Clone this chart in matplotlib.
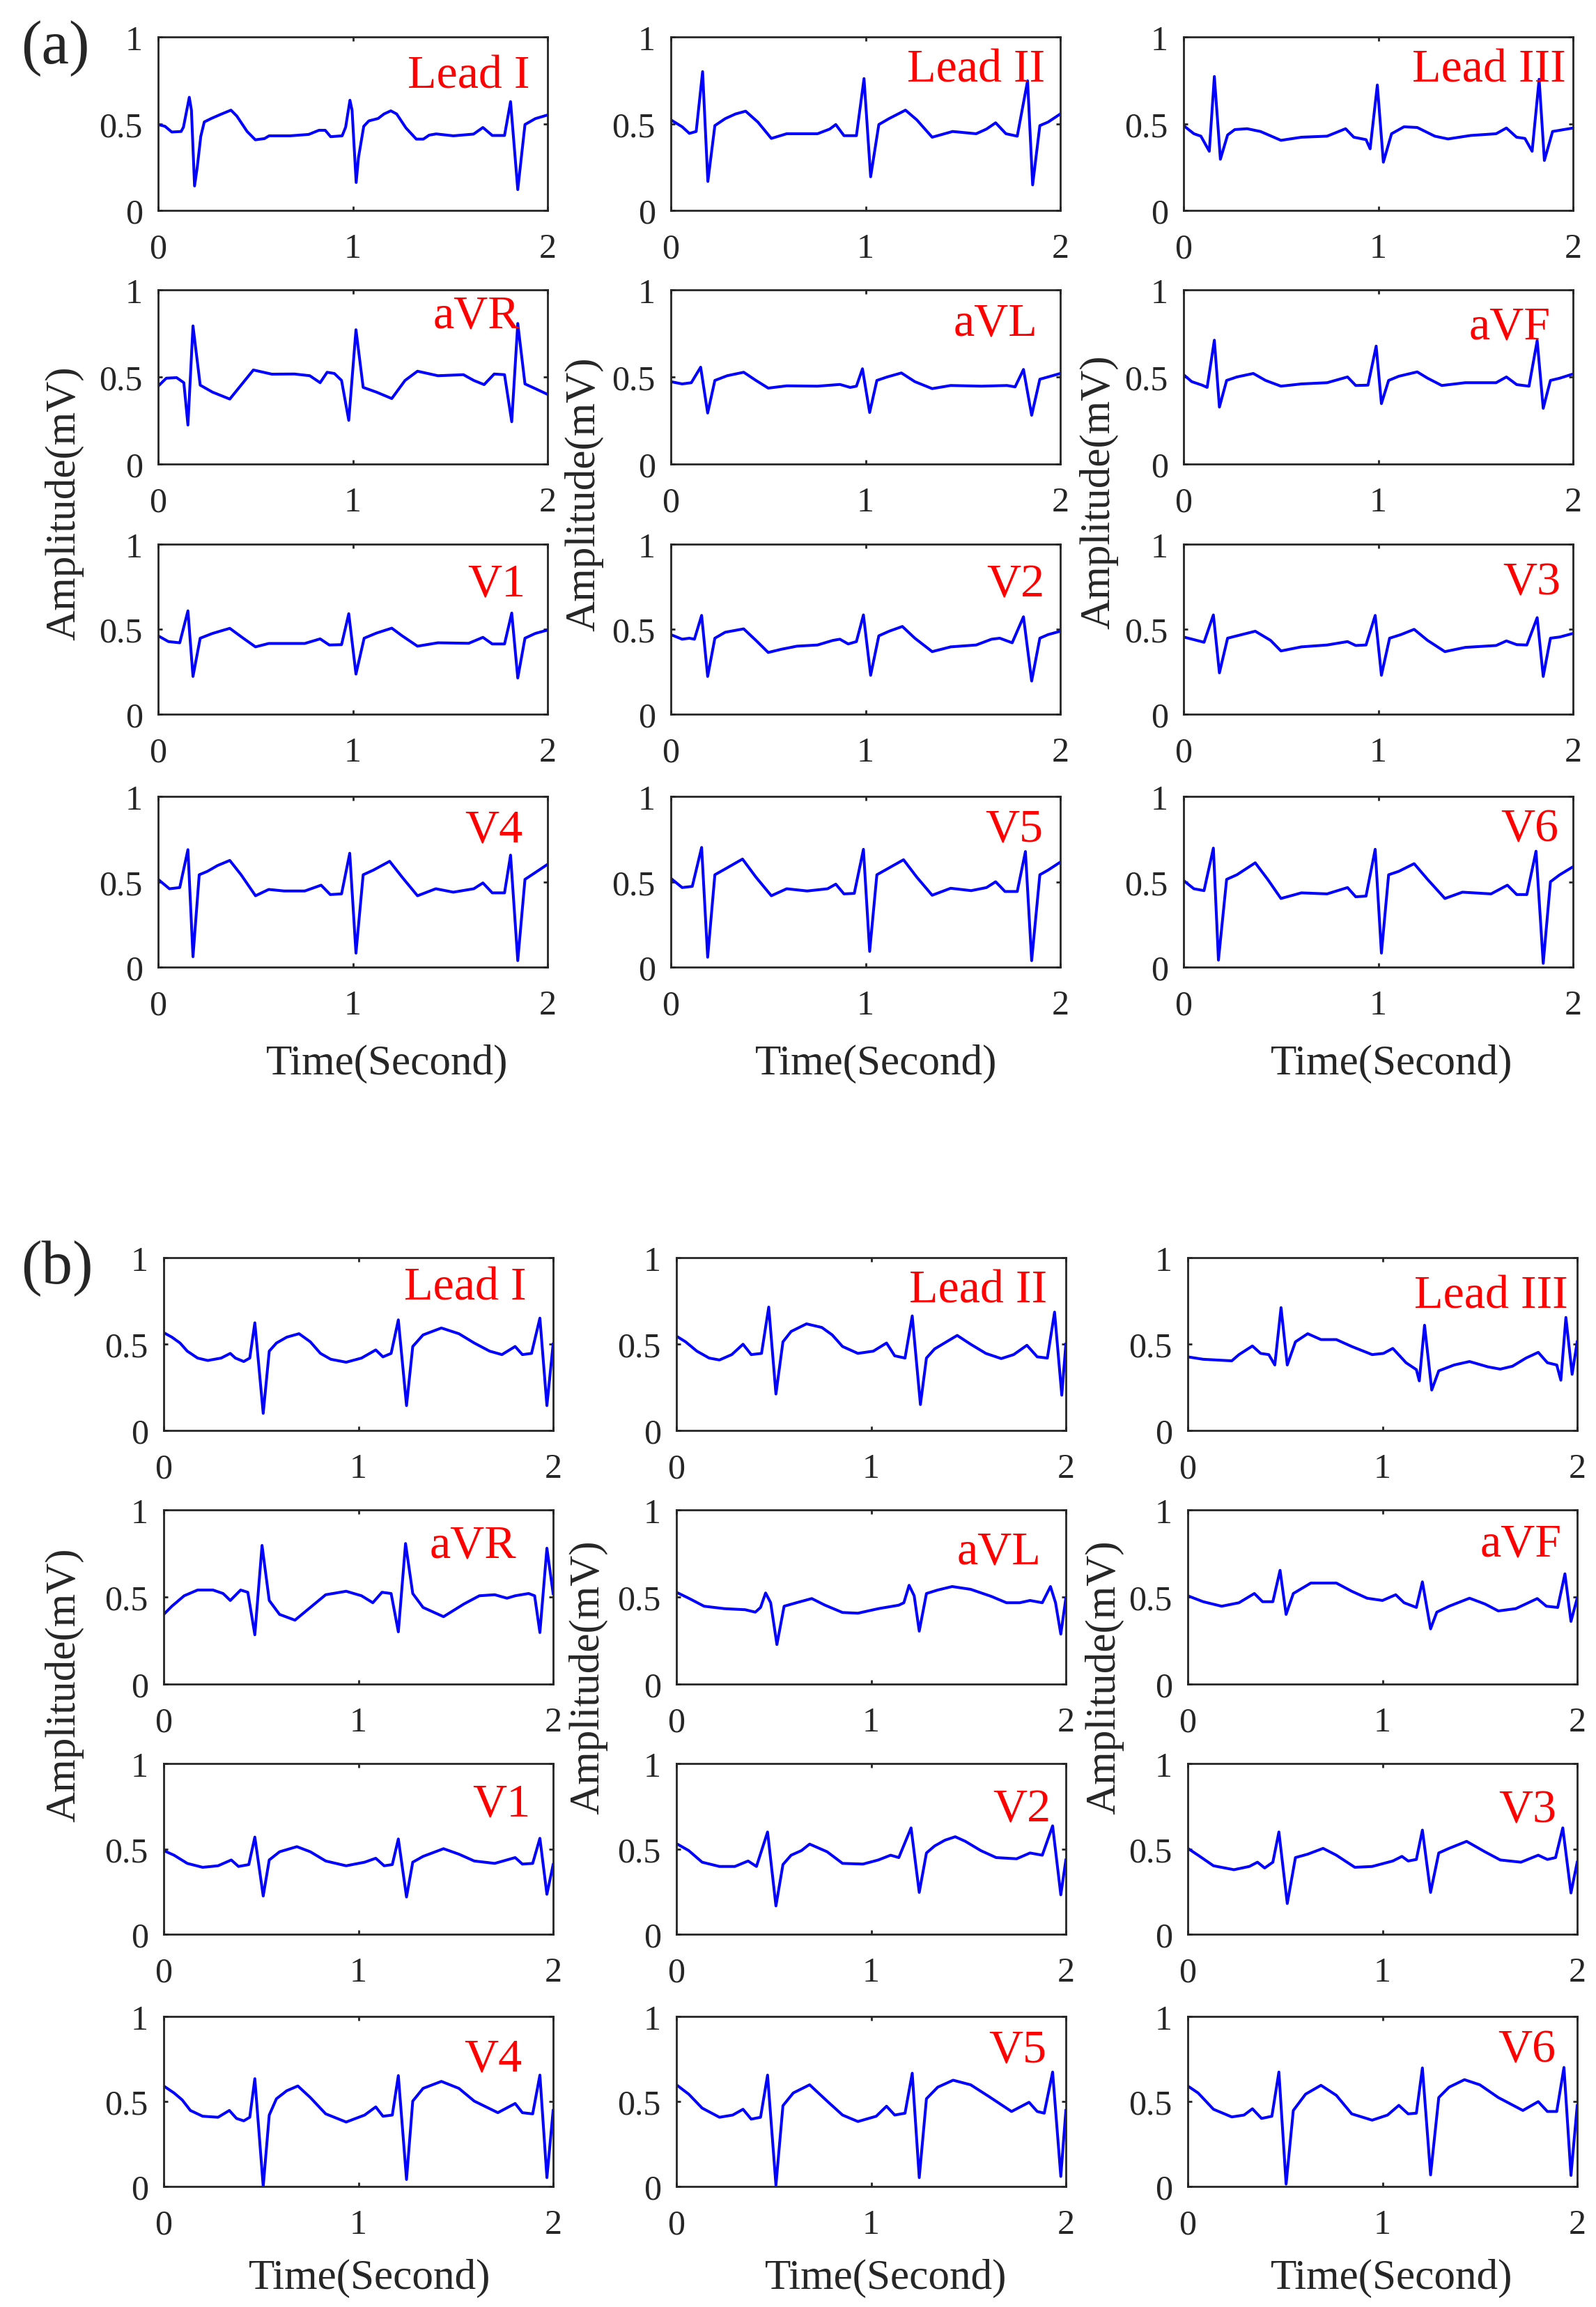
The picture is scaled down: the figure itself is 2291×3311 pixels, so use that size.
import matplotlib
matplotlib.use('Agg')
import matplotlib.pyplot as plt

plt.rcParams['font.family'] = ['Liberation Serif', 'DejaVu Serif']

# lead names, same order for both groups
LEADS = ['Lead I', 'Lead II', 'Lead III', 'aVR', 'aVL', 'aVF',
         'V1', 'V2', 'V3', 'V4', 'V5', 'V6']

XTICKS = [0, 1, 2]
XTICKLABELS = ['0', '1', '2']
YTICKS = [0, 0.5, 1]
YTICKLABELS = ['0', '0.5', '1']

# ---- group (a): (time s, amplitude mV)
A_I = [(0, .495), (.035, .485), (.07, .452), (.118, .455), (.13, .48), (.16, .652), (.171, .578), (.187, .141),
       (.201, .25), (.219, .427), (.237, .51), (.273, .53), (.32, .553), (.374, .578), (.404, .544), (.457, .455),
       (.499, .407), (.546, .414), (.57, .43), (.677, .43), (.773, .438), (.826, .462), (.858, .462), (.886, .425),
       (.945, .43), (.963, .48), (.985, .635), (.996, .578), (1.017, .161), (1.029, .305), (1.056, .485),
       (1.082, .516), (1.13, .53), (1.16, .556), (1.195, .574), (1.225, .556), (1.273, .475), (1.326, .411),
       (1.362, .411), (1.392, .434), (1.428, .441), (1.516, .43), (1.62, .44), (1.668, .478), (1.716, .432),
       (1.779, .432), (1.81, .627), (1.847, .12), (1.884, .495), (1.937, .529), (2.0, .55)]
A_II = [(0, .522), (.058, .482), (.095, .444), (.13, .455), (.163, .80), (.19, .167), (.226, .489), (.279, .529),
        (.332, .556), (.384, .572), (.447, .509), (.516, .415), (.595, .442), (.753, .442), (.816, .469),
        (.847, .495), (.889, .431), (.953, .431), (.992, .76), (1.026, .194), (1.068, .495), (1.12, .529),
        (1.205, .578), (1.263, .522), (1.342, .422), (1.447, .455), (1.568, .442), (1.621, .469), (1.668, .505),
        (1.721, .442), (1.779, .428), (1.832, .747), (1.858, .147), (1.895, .489), (1.937, .509), (2.0, .556)]
A_III = [(0, .489), (.053, .442), (.089, .428), (.132, .341), (.158, .772), (.189, .295), (.226, .435),
         (.263, .466), (.326, .471), (.395, .455), (.5, .404), (.605, .422), (.737, .428), (.832, .471),
         (.874, .422), (.937, .408), (.958, .355), (.995, .723), (1.026, .278), (1.068, .442), (1.132, .482),
         (1.2, .478), (1.29, .428), (1.358, .412), (1.474, .432), (1.605, .442), (1.658, .475), (1.71, .422),
         (1.753, .415), (1.79, .341), (1.826, .756), (1.853, .288), (1.895, .455), (2.0, .475)]
A_AVR = [(0, .447), (.042, .493), (.095, .496), (.132, .467), (.153, .224), (.179, .793), (.216, .453),
         (.279, .413), (.368, .373), (.489, .54), (.584, .516), (.7, .517), (.779, .507), (.832, .467),
         (.868, .527), (.905, .52), (.942, .48), (.979, .251), (1.016, .771), (1.053, .44), (1.121, .413),
         (1.2, .376), (1.268, .48), (1.332, .533), (1.437, .507), (1.568, .513), (1.621, .48), (1.674, .456),
         (1.726, .517), (1.779, .513), (1.816, .243), (1.847, .807), (1.884, .46), (1.937, .433), (2.0, .4)]
A_AVL = [(0, .473), (.058, .46), (.105, .467), (.153, .556), (.189, .293), (.226, .48), (.289, .507),
         (.374, .527), (.437, .48), (.5, .436), (.595, .449), (.753, .447), (.868, .457), (.921, .44),
         (.953, .447), (.984, .547), (1.021, .296), (1.058, .48), (1.111, .5), (1.184, .523), (1.253, .473),
         (1.342, .433), (1.437, .451), (1.595, .447), (1.726, .451), (1.768, .443), (1.811, .543), (1.853, .28),
         (1.895, .487), (1.937, .5), (2.0, .52)]
A_AVF = [(0, .513), (.042, .473), (.095, .453), (.121, .44), (.158, .711), (.184, .327), (.221, .48),
         (.274, .5), (.358, .52), (.421, .48), (.5, .447), (.605, .46), (.737, .467), (.842, .5), (.884, .451),
         (.947, .453), (.989, .677), (1.016, .347), (1.053, .48), (1.105, .504), (1.2, .529), (1.253, .493),
         (1.326, .451), (1.447, .467), (1.605, .467), (1.658, .5), (1.711, .456), (1.774, .447), (1.816, .709),
         (1.847, .32), (1.884, .48), (1.932, .493), (2.0, .517)]
A_V1 = [(0, .461), (.053, .427), (.111, .42), (.153, .608), (.179, .222), (.216, .447), (.279, .475),
        (.368, .505), (.437, .447), (.5, .396), (.568, .416), (.753, .416), (.832, .443), (.879, .407),
        (.942, .409), (.979, .591), (1.016, .236), (1.058, .447), (1.121, .477), (1.2, .506), (1.253, .461),
        (1.332, .4), (1.437, .42), (1.595, .417), (1.668, .452), (1.716, .413), (1.779, .413), (1.816, .595),
        (1.847, .213), (1.884, .447), (1.937, .475), (2.0, .495)]
A_V2 = [(0, .468), (.058, .441), (.095, .447), (.121, .441), (.158, .581), (.189, .222), (.226, .447),
        (.279, .482), (.374, .502), (.437, .434), (.5, .363), (.568, .382), (.647, .4), (.753, .407),
        (.832, .434), (.868, .441), (.911, .413), (.953, .427), (.989, .584), (1.026, .229), (1.068, .461),
        (1.121, .488), (1.189, .516), (1.253, .447), (1.342, .368), (1.437, .396), (1.568, .407), (1.647, .441),
        (1.689, .447), (1.753, .42), (1.811, .573), (1.853, .195), (1.895, .447), (1.937, .468), (2.0, .488)]
A_V3 = [(0, .454), (.068, .434), (.105, .423), (.153, .584), (.184, .243), (.226, .447), (.274, .461),
        (.368, .488), (.447, .434), (.5, .372), (.605, .396), (.737, .407), (.842, .427), (.884, .404),
        (.937, .407), (.984, .581), (1.016, .229), (1.058, .447), (1.116, .468), (1.184, .499), (1.253, .434),
        (1.342, .368), (1.447, .393), (1.605, .404), (1.658, .431), (1.711, .409), (1.763, .407), (1.816, .568),
        (1.847, .222), (1.884, .447), (1.932, .454), (2.0, .475)]
A_V4 = [(0, .514), (.058, .459), (.111, .466), (.153, .688), (.179, .061), (.211, .541), (.253, .561),
        (.305, .595), (.368, .625), (.426, .541), (.5, .418), (.568, .455), (.647, .446), (.753, .446),
        (.837, .48), (.884, .425), (.942, .429), (.984, .667), (1.016, .082), (1.053, .541), (1.105, .568),
        (1.189, .62), (1.253, .527), (1.332, .418), (1.426, .459), (1.516, .439), (1.621, .459), (1.668, .493),
        (1.716, .435), (1.779, .435), (1.81, .656), (1.847, .038), (1.884, .514), (1.937, .554), (2.0, .602)]
A_V5 = [(0, .52), (.058, .466), (.11, .473), (.158, .701), (.189, .058), (.226, .541), (.279, .575),
        (.368, .633), (.437, .527), (.516, .418), (.595, .459), (.7, .446), (.805, .459), (.847, .486),
        (.889, .429), (.942, .432), (.989, .69), (1.021, .092), (1.058, .541), (1.111, .575), (1.195, .629),
        (1.263, .527), (1.342, .421), (1.437, .462), (1.542, .448), (1.621, .466), (1.668, .5), (1.716, .443),
        (1.779, .443), (1.821, .677), (1.853, .038), (1.895, .541), (1.937, .568), (2.0, .615)]
A_V6 = [(0, .507), (.053, .459), (.105, .448), (.153, .697), (.179, .041), (.221, .514), (.274, .541),
        (.368, .611), (.432, .514), (.5, .402), (.605, .435), (.737, .429), (.842, .466), (.884, .412),
        (.937, .416), (.984, .69), (1.016, .082), (1.053, .541), (1.105, .561), (1.184, .606), (1.253, .514),
        (1.342, .402), (1.432, .439), (1.579, .429), (1.663, .48), (1.711, .425), (1.763, .425), (1.81, .679),
        (1.847, .022), (1.884, .5), (1.932, .541), (2.0, .588)]

# ---- group (b)
B_I = [(0, .566), (.042, .54), (.084, .506), (.121, .459), (.174, .419), (.226, .405), (.295, .419),
       (.342, .446), (.368, .419), (.411, .399), (.442, .419), (.468, .623), (.511, .099), (.542, .459),
       (.579, .506), (.632, .54), (.695, .56), (.753, .513), (.805, .446), (.858, .412), (.937, .395),
       (1.016, .419), (1.089, .466), (1.126, .426), (1.168, .446), (1.205, .64), (1.247, .144), (1.279, .486),
       (1.332, .553), (1.426, .593), (1.516, .56), (1.595, .506), (1.674, .459), (1.737, .439), (1.805, .486),
       (1.842, .439), (1.889, .446), (1.932, .65), (1.968, .144), (2.0, .5)]
B_II = [(0, .546), (.047, .513), (.105, .459), (.168, .419), (.221, .408), (.284, .439), (.342, .499),
        (.384, .439), (.437, .446), (.474, .714), (.511, .211), (.547, .513), (.589, .573), (.668, .617),
        (.747, .596), (.8, .553), (.853, .486), (.932, .446), (1.011, .459), (1.079, .506), (1.121, .432),
        (1.174, .419), (1.211, .663), (1.253, .15), (1.284, .419), (1.326, .472), (1.442, .55), (1.511, .499),
        (1.589, .446), (1.668, .416), (1.732, .439), (1.8, .493), (1.853, .426), (1.905, .419), (1.942, .685),
        (1.979, .204), (2.0, .5)]
B_III = [(0, .426), (.079, .412), (.226, .403), (.263, .439), (.332, .489), (.374, .446), (.416, .439),
         (.447, .379), (.479, .711), (.511, .379), (.553, .513), (.616, .56), (.684, .526), (.763, .526),
         (.842, .486), (.947, .439), (1.005, .446), (1.053, .475), (1.121, .392), (1.174, .352), (1.189, .287),
         (1.216, .609), (1.253, .234), (1.289, .345), (1.368, .379), (1.447, .399), (1.542, .368), (1.605, .355),
         (1.668, .372), (1.737, .419), (1.8, .452), (1.847, .392), (1.895, .379), (1.916, .291), (1.942, .654),
         (1.974, .325), (2.0, .513)]
B_AVR = [(0, .4), (.042, .447), (.105, .507), (.174, .54), (.253, .54), (.305, .52), (.342, .48), (.395, .54),
         (.432, .527), (.468, .283), (.505, .796), (.542, .48), (.595, .4), (.674, .367), (.753, .44),
         (.832, .513), (.937, .533), (1.016, .507), (1.074, .467), (1.121, .527), (1.168, .52), (1.205, .3),
         (1.242, .807), (1.279, .52), (1.332, .44), (1.437, .387), (1.542, .46), (1.621, .507), (1.7, .513),
         (1.763, .493), (1.805, .507), (1.874, .52), (1.905, .507), (1.932, .296), (1.968, .78), (2.0, .52)]
B_AVL = [(0, .527), (.063, .493), (.142, .447), (.247, .433), (.353, .427), (.405, .413), (.432, .44),
         (.458, .523), (.484, .467), (.516, .227), (.553, .447), (.616, .467), (.695, .491), (.763, .453),
         (.853, .411), (.932, .407), (1.037, .433), (1.142, .453), (1.168, .467), (1.195, .567), (1.221, .507),
         (1.247, .304), (1.284, .52), (1.342, .54), (1.416, .56), (1.511, .544), (1.616, .504), (1.695, .467),
         (1.763, .467), (1.816, .48), (1.879, .467), (1.921, .56), (1.947, .467), (1.974, .287), (2.0, .493)]
B_AVF = [(0, .507), (.079, .473), (.174, .447), (.263, .467), (.342, .52), (.384, .473), (.437, .473),
         (.474, .653), (.505, .4), (.542, .52), (.632, .58), (.763, .58), (.842, .533), (.921, .493), (1.0, .48),
         (1.068, .513), (1.111, .467), (1.174, .44), (1.205, .587), (1.247, .317), (1.279, .413), (1.342, .447),
         (1.447, .493), (1.526, .46), (1.595, .42), (1.684, .433), (1.795, .491), (1.842, .447), (1.9, .44),
         (1.937, .633), (1.968, .36), (2.0, .493)]
B_V1 = [(0, .49), (.053, .463), (.121, .415), (.2, .392), (.279, .401), (.347, .435), (.384, .397),
        (.437, .408), (.468, .569), (.511, .224), (.542, .435), (.595, .483), (.684, .513), (.753, .483),
        (.832, .429), (.937, .401), (1.032, .422), (1.089, .445), (1.132, .401), (1.174, .408), (1.205, .558),
        (1.247, .218), (1.279, .422), (1.332, .456), (1.437, .501), (1.516, .469), (1.595, .429), (1.7, .415),
        (1.805, .449), (1.842, .411), (1.895, .415), (1.932, .562), (1.968, .234), (2.0, .408)]
B_V2 = [(0, .531), (.063, .49), (.132, .422), (.221, .397), (.3, .397), (.368, .429), (.411, .397),
        (.468, .599), (.511, .166), (.547, .408), (.589, .463), (.642, .49), (.684, .528), (.774, .483),
        (.853, .415), (.958, .411), (1.037, .435), (1.1, .463), (1.142, .449), (1.205, .623), (1.247, .245),
        (1.284, .476), (1.326, .517), (1.379, .551), (1.432, .571), (1.484, .544), (1.563, .49), (1.642, .449),
        (1.747, .442), (1.816, .476), (1.879, .463), (1.932, .635), (1.974, .231), (2.0, .435)]
B_V3 = [(0, .503), (.053, .463), (.132, .401), (.237, .378), (.316, .397), (.358, .422), (.395, .388),
        (.437, .422), (.468, .599), (.511, .18), (.553, .449), (.616, .469), (.695, .503), (.763, .463),
        (.858, .392), (.947, .397), (1.053, .429), (1.1, .456), (1.132, .429), (1.174, .438), (1.205, .61),
        (1.247, .245), (1.289, .476), (1.342, .503), (1.432, .544), (1.526, .483), (1.605, .435), (1.711, .422),
        (1.8, .463), (1.847, .438), (1.889, .449), (1.926, .623), (1.968, .242), (2.0, .422)]
B_V4 = [(0, .591), (.053, .55), (.095, .509), (.137, .447), (.2, .413), (.279, .407), (.337, .447),
        (.374, .4), (.411, .386), (.442, .407), (.468, .634), (.511, 0.0), (.542, .42), (.579, .516),
        (.632, .563), (.689, .591), (.753, .523), (.832, .427), (.937, .379), (1.032, .42), (1.089, .468),
        (1.126, .413), (1.174, .42), (1.205, .652), (1.247, .041), (1.279, .502), (1.332, .577), (1.426, .618),
        (1.516, .577), (1.595, .502), (1.716, .434), (1.805, .488), (1.842, .434), (1.895, .427), (1.932, .655),
        (1.968, .052), (2.0, .447)]
B_V5 = [(0, .598), (.063, .543), (.132, .461), (.221, .407), (.289, .42), (.342, .454), (.384, .396),
        (.432, .407), (.468, .655), (.511, .008), (.547, .475), (.6, .55), (.684, .598), (.774, .502),
        (.853, .42), (.932, .382), (1.026, .413), (1.079, .472), (1.121, .42), (1.174, .431), (1.211, .666),
        (1.247, .052), (1.284, .516), (1.342, .584), (1.421, .625), (1.511, .598), (1.605, .529), (1.721, .441),
        (1.811, .495), (1.853, .441), (1.889, .431), (1.932, .673), (1.974, .059), (2.0, .447)]
B_V6 = [(0, .591), (.053, .55), (.132, .454), (.226, .409), (.289, .42), (.332, .457), (.379, .4),
        (.432, .413), (.468, .673), (.505, .014), (.542, .447), (.605, .543), (.684, .595), (.763, .536),
        (.842, .427), (.947, .39), (1.026, .42), (1.084, .477), (1.132, .427), (1.174, .431), (1.205, .697),
        (1.247, .068), (1.289, .523), (1.342, .584), (1.421, .628), (1.5, .598), (1.595, .523), (1.721, .447),
        (1.8, .499), (1.847, .441), (1.895, .441), (1.932, .7), (1.968, .065), (2.0, .475)]

GROUP_A = [A_I, A_II, A_III, A_AVR, A_AVL, A_AVF, A_V1, A_V2, A_V3, A_V4, A_V5, A_V6]
GROUP_B = [B_I, B_II, B_III, B_AVR, B_AVL, B_AVF, B_V1, B_V2, B_V3, B_V4, B_V5, B_V6]

# ---- layout (pixels of the 2291x3312 canvas)
W, H = 2291, 3312
A_LEFTS = [227, 963, 1699]
B_LEFTS = [235, 971, 1705]
AX_W = 559
A_ROWS = [(54, 303), (417, 667), (782, 1026), (1144, 1389)]
B_ROWS = [(1806, 2054), (2168, 2418), (2532, 2777), (2895, 3139)]
# lead name anchor (right edge, baseline) in data units
A_NAME_POS = [(1.91, .71), (1.92, .743), (1.963, .743), (1.858, .784), (1.884, .74), (1.884, .723),
              (1.889, .70), (1.92, .693), (1.937, .709), (1.874, .738), (1.91, .742), (1.926, .742)]
B_NAME_POS = [(1.863, .761), (1.905, .744), (1.953, .711), (1.81, .729), (1.874, .693), (1.921, .737),
              (1.884, .697), (1.921, .663), (1.895, .66), (1.842, .682), (1.9, .737), (1.89, .737)]

INK = '#262626'

fig = plt.figure(figsize=(W / 100, H / 100), dpi=100)


def draw_group(traces, lefts, rows, name_pos):
    for i, pts in enumerate(traces):
        r, c = divmod(i, 3)
        top, bot = rows[r]
        ax = fig.add_axes([lefts[c] / W, 1 - bot / H, AX_W / W, (bot - top) / H])
        t = [p[0] for p in pts]
        v = [p[1] for p in pts]
        ax.plot(t, v, color='#0000ff', lw=2.9, solid_joinstyle='round')
        ax.set_xlim(0, 2)
        ax.set_ylim(0, 1)
        ax.set_xticks(XTICKS)
        ax.set_xticklabels(XTICKLABELS)
        ax.set_yticks(YTICKS)
        ax.set_yticklabels(YTICKLABELS)
        ax.tick_params(direction='in', length=4.5, width=2, colors=INK, labelsize=36,
                       top=True, right=True)
        ax.tick_params(axis='y', pad=16)
        ax.tick_params(axis='x', pad=23)
        for s in ax.spines.values():
            s.set_linewidth(2.0)
            s.set_color(INK)
        nx, ny = name_pos[i]
        ax.text(nx, ny, LEADS[i], color='red', fontsize=49, ha='right', va='baseline')


draw_group(GROUP_A, A_LEFTS, A_ROWS, A_NAME_POS)
draw_group(GROUP_B, B_LEFTS, B_ROWS, B_NAME_POS)


def ftext(x, y, s, **kw):
    fig.text(x / W, 1 - y / H, s, color=INK, ha='center', va='center', **kw)


ftext(79, 70, '(a)', fontsize=64)
ftext(82, 1821, '(b)', fontsize=64)

for x in [556, 1258, 1998]:
    ftext(x, 1527, 'Time(Second)', fontsize=44)
for x in [531, 1272, 1998]:
    ftext(x, 3270, 'Time(Second)', fontsize=44)

for x, y in [(92, 722), (838, 709), (1577, 706)]:
    ftext(x, y, 'Amplitude(mV)', fontsize=44, rotation=90)
for x, y in [(92, 2418), (844, 2407), (1585, 2407)]:
    ftext(x, y, 'Amplitude(mV)', fontsize=44, rotation=90)

fig.savefig('out.png', dpi=100, facecolor='white')
